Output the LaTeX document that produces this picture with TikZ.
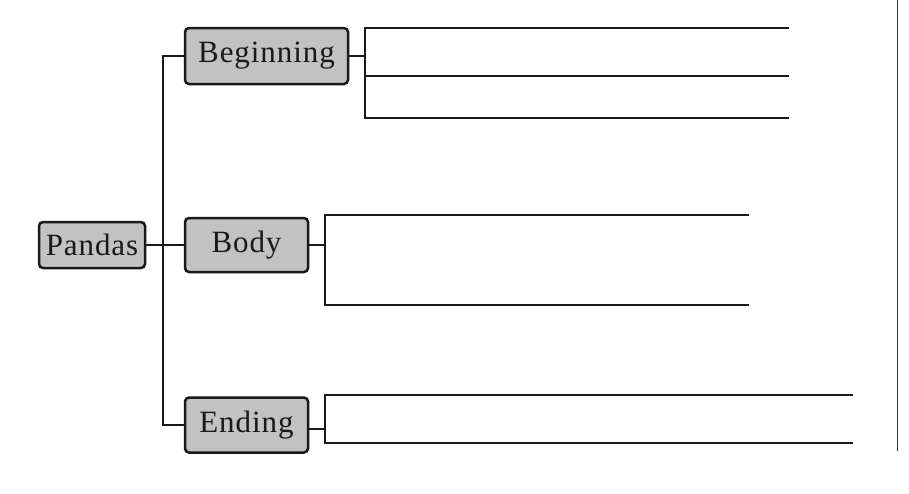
\documentclass[tikz,border=0pt]{standalone}
\usepackage{fontspec}
\setmainfont{Liberation Serif}[LetterSpace=3]
\begin{document}
\begin{tikzpicture}[x=1pt,y=-1pt,
  box/.style={draw=black!90, line width=2.5pt, rounded corners=4pt, fill=black!24,
    inner sep=0pt, font=\fontsize{31}{32}\selectfont, text=black!90},
  ln/.style={line width=2.4pt, black!90}]
\useasboundingbox (0,0) rectangle (909,493);
\node[box, minimum width=106pt, minimum height=46pt] (pandas) at (92,245) {Pandas};
\node[box, minimum width=163pt, minimum height=56pt] (begin) at (266.5,56) {Beginning};
\node[box, minimum width=123pt, minimum height=54pt] (body) at (246.5,245) {Body};
\node[box, minimum width=123pt, minimum height=55pt] (end) at (246.5,425) {Ending};
% trunk
\coordinate (tb) at (163,56);
\coordinate (te) at (163,425);
\draw[ln] (pandas.east) -- (body.west);
\draw[ln] (begin.west) -- (tb) -- (te) -- (end.west);
% Beginning branch
\coordinate (b1) at (365,28);
\coordinate (b2) at (365,76);
\coordinate (b3) at (365,118);
\coordinate (b1e) at (789,28);
\coordinate (b2e) at (789,76);
\coordinate (b3e) at (789,118);
\draw[ln] (begin.east) -- (b1 |- begin.east);
\draw[ln] (b1e) -- (b1) -- (b3) -- (b3e);
\draw[ln] (b2) -- (b2e);
% Body branch
\coordinate (d1) at (325,215);
\coordinate (d2) at (325,305);
\coordinate (d1e) at (749,215);
\coordinate (d2e) at (749,305);
\draw[ln] (body.east) -- (d1 |- body.east);
\draw[ln] (d1e) -- (d1) -- (d2) -- (d2e);
% Ending branch
\coordinate (e1) at (325,395);
\coordinate (e2) at (325,443);
\coordinate (e1e) at (853,395);
\coordinate (e2e) at (853,443);
\draw[ln] (end.east) ++(0,4) coordinate (ec) -- (e1 |- ec);
\draw[ln] (e1e) -- (e1) -- (e2) -- (e2e);
% right border line
\coordinate (r1) at (897.5,0);
\coordinate (r2) at (897.5,451);
\draw[line width=1.4pt, black!80] (r1) -- (r2);
\end{tikzpicture}
\end{document}
